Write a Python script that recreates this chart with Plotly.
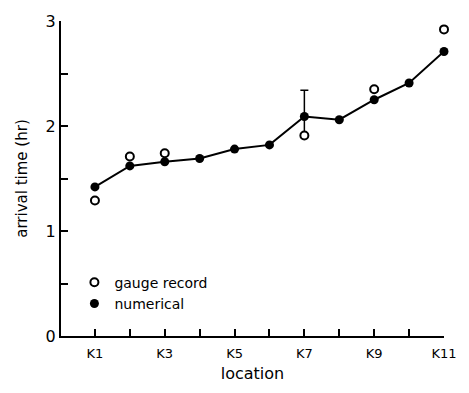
import plotly.graph_objects as go

locations = [1, 2, 3, 4, 5, 6, 7, 8, 9, 10, 11]
numerical = [1.42, 1.62, 1.66, 1.69, 1.78, 1.82, 2.09, 2.06, 2.25, 2.41, 2.71]
gauge_loc = [1, 2, 3, 7, 9, 11]
gauge_rec = [1.29, 1.71, 1.74, 1.91, 2.35, 2.92]
err_plus = [0, 0, 0, 0, 0, 0, 0.25, 0, 0, 0, 0]
err_minus = [0, 0, 0, 0, 0, 0, 0.18, 0, 0, 0, 0]
tick_vals = [1, 2, 3, 4, 5, 6, 7, 8, 9, 10, 11]
tick_text = ["K1", "", "K3", "", "K5", "", "K7", "", "K9", "", "K11"]

FONT = "DejaVu Sans"

fig = go.Figure()
fig.add_trace(go.Scatter(
    x=locations, y=numerical, mode="lines", showlegend=False,
    line=dict(color="black", width=2),
    error_y=dict(type="data", symmetric=False, array=err_plus, arrayminus=err_minus,
                 color="black", thickness=1.5, width=4),
    cliponaxis=False,
))
fig.add_trace(go.Scatter(
    x=gauge_loc, y=gauge_rec, mode="markers", name="gauge record",
    marker=dict(symbol="circle", size=8, color="white", line=dict(width=2, color="black")),
    cliponaxis=False,
))
fig.add_trace(go.Scatter(
    x=locations, y=numerical, mode="markers", name="numerical",
    marker=dict(symbol="circle", size=9, color="black"),
    cliponaxis=False,
))

fig.update_layout(
    width=469, height=393,
    margin=dict(l=61, r=13, t=16, b=57),
    paper_bgcolor="white", plot_bgcolor="white",
    font=dict(family=FONT, color="black", size=13),
    showlegend=True,
    legend=dict(x=0.035, y=0.22, xanchor="left", yanchor="top",
                bgcolor="rgba(0,0,0,0)", font=dict(size=14, family=FONT),
                itemwidth=30, tracegroupgap=0, traceorder="normal"),
    xaxis=dict(
        range=[0.028, 11], showgrid=False, zeroline=False,
        showline=True, linecolor="black", linewidth=2,
        tickmode="array", tickvals=tick_vals, ticktext=tick_text,
        ticks="inside", ticklen=7, tickwidth=2, tickcolor="black",
        tickfont=dict(size=13, family=FONT), ticklabelstandoff=4,
        title=dict(text="location", font=dict(size=16, family=FONT), standoff=8),
    ),
    yaxis=dict(
        range=[0, 3], showgrid=False, zeroline=False,
        showline=True, linecolor="black", linewidth=2,
        tickmode="array", tickvals=[0, 1, 2, 3],
        ticks="inside", ticklen=7, tickwidth=2, tickcolor="black",
        tickfont=dict(size=16, family=FONT),
        minor=dict(tickvals=[0.5, 1.5, 2.5], ticks="inside", ticklen=7,
                   tickwidth=2, tickcolor="black", showgrid=False),
        title=dict(text="arrival time (hr)", font=dict(size=15, family=FONT), standoff=14),
    ),
)

fig.write_html("out.html")
